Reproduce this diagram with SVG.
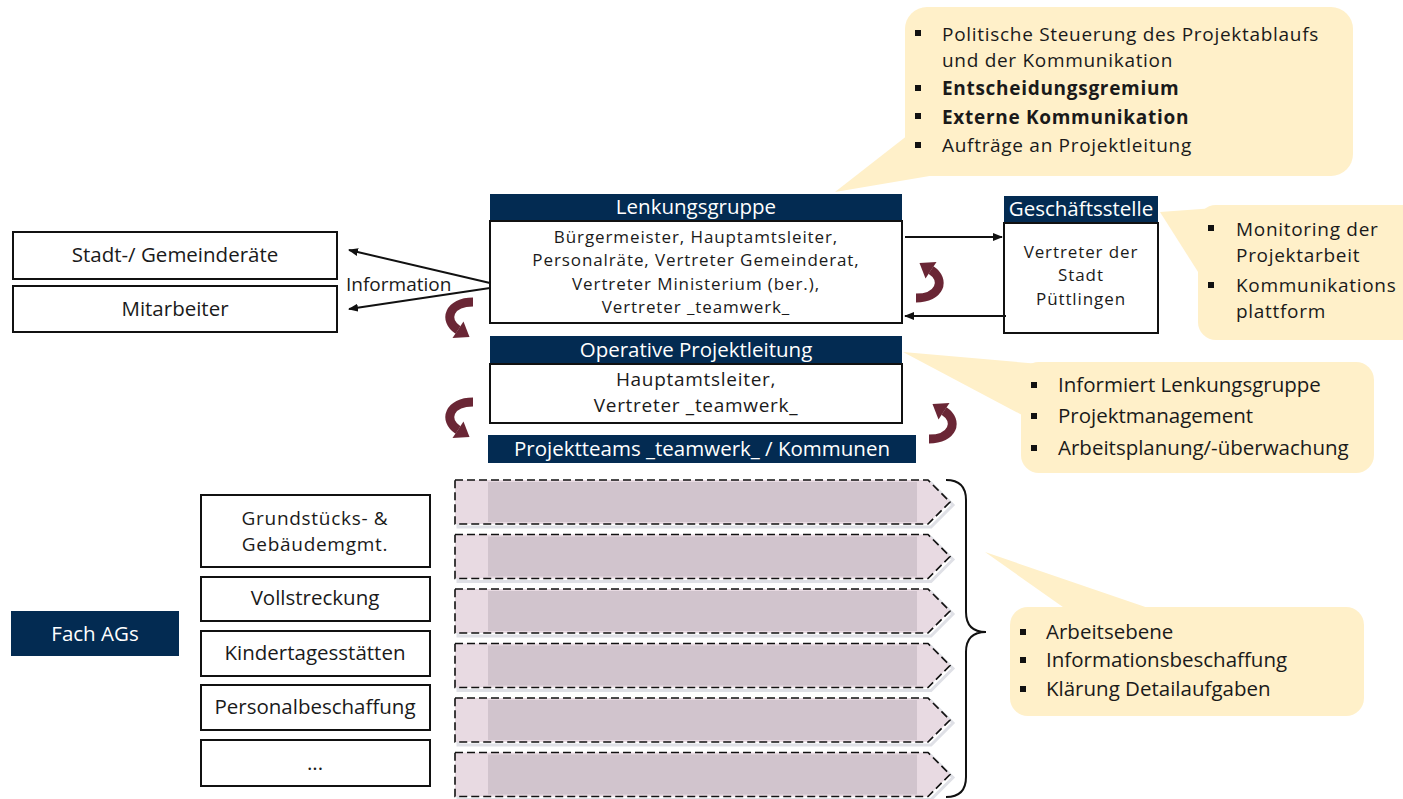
<svg xmlns="http://www.w3.org/2000/svg" xmlns:xlink="http://www.w3.org/1999/xlink" width="1403" height="799" viewBox="0 0 1403 799">
<style>
text{font-family:"Open Sans",Lato,"Liberation Sans",sans-serif;fill:#1a1a1a}
.t{font-size:20.5px}
.tt{font-size:19px;letter-spacing:0.7px}
.s{font-size:17px;letter-spacing:0.9px}
.g{font-size:17px;letter-spacing:0.9px}
.i{font-size:19px}
.c{text-anchor:middle}
.w{fill:#ffffff}
.hdr{fill:#032b52}
.box{fill:#ffffff;stroke:#111;stroke-width:2}
.call{fill:#fff0c9}
.bul{fill:#111}
.b{font-weight:bold}
.conn{stroke:#111;stroke-width:2;fill:none}
.chev{fill:#e8dae2;stroke:#111;stroke-width:1.6;stroke-dasharray:8 4}
.inner{fill:#cdbfc9;opacity:0.85}
.shadow{fill:none;stroke:#dfe0e6;stroke-width:3}
</style>
<defs>
<marker id="ah" markerWidth="10" markerHeight="8" refX="9" refY="4" orient="auto" markerUnits="userSpaceOnUse">
<path d="M0,0 L10,4 L0,8 Z" fill="#111"/>
</marker>
<g id="carrow">
<path d="M28 5 C4 5, -2 23, 13 33" fill="none" stroke="#6a2635" stroke-width="9"/>
<path d="M24.5 40 L7.5 41 L18.5 24.5 Z" fill="#6a2635"/>
</g>
</defs>

<!-- callouts -->
<g id="callout-top">
<path class="call" d="M908 135 L835 192 L965 170 Z"/>
<rect class="call" x="905" y="7" width="448" height="169" rx="22"/>
<rect class="bul" x="915" y="30" width="6" height="6"/>
<text class="tt" x="942" y="41">Politische Steuerung des Projektablaufs</text>
<text class="tt" x="942" y="67">und der Kommunikation</text>
<rect class="bul" x="915" y="85" width="6" height="6"/>
<text class="tt b" x="942" y="95">Entscheidungsgremium</text>
<rect class="bul" x="915" y="113" width="6" height="6"/>
<text class="tt b" x="942" y="124">Externe Kommunikation</text>
<rect class="bul" x="915" y="142" width="6" height="6"/>
<text class="tt" x="942" y="152">Aufträge an Projektleitung</text>
</g>

<g id="callout-gs">
<path class="call" d="M1160 212 L1215 208 L1200 275 Z"/>
<rect class="call" x="1198" y="205" width="230" height="135" rx="18"/>
<rect class="bul" x="1208" y="225" width="6" height="6"/>
<text class="tt" x="1236" y="236">Monitoring der</text>
<text class="tt" x="1236" y="262">Projektarbeit</text>
<rect class="bul" x="1208" y="282" width="6" height="6"/>
<text class="tt" x="1236" y="292">Kommunikations</text>
<text class="tt" x="1236" y="318">plattform</text>
</g>

<g id="callout-op">
<path class="call" d="M903 352 L1040 364 L1022 415 Z"/>
<rect class="call" x="1021" y="362" width="353" height="111" rx="18"/>
<rect class="bul" x="1031" y="382" width="6" height="6"/>
<text class="t" x="1058" y="392">Informiert Lenkungsgruppe</text>
<rect class="bul" x="1031" y="413" width="6" height="6"/>
<text class="t" x="1058" y="423">Projektmanagement</text>
<rect class="bul" x="1031" y="445" width="6" height="6"/>
<text class="t" x="1058" y="455">Arbeitsplanung/-überwachung</text>
</g>

<g id="callout-ag">
<path class="call" d="M985 552 L1070 612 L1160 612 Z"/>
<rect class="call" x="1010" y="607" width="354" height="109" rx="18"/>
<rect class="bul" x="1020" y="629" width="6" height="6"/>
<text class="t" x="1046" y="639">Arbeitsebene</text>
<rect class="bul" x="1020" y="657" width="6" height="6"/>
<text class="t" x="1046" y="667">Informationsbeschaffung</text>
<rect class="bul" x="1020" y="686" width="6" height="6"/>
<text class="t" x="1046" y="696">Klärung Detailaufgaben</text>
</g>

<!-- Lenkungsgruppe -->
<g id="lenkungsgruppe">
<rect class="hdr" x="490" y="194" width="412" height="27"/>
<text class="t c w" x="696" y="214">Lenkungsgruppe</text>
<rect class="box" x="490" y="221" width="412" height="102"/>
<text class="s c" x="696" y="243">Bürgermeister, Hauptamtsleiter,</text>
<text class="s c" x="696" y="266.4">Personalräte, Vertreter Gemeinderat,</text>
<text class="s c" x="696" y="289.8">Vertreter Ministerium (ber.),</text>
<text class="s c" x="696" y="313.2">Vertreter _teamwerk_</text>
</g>

<g id="geschaeftsstelle">
<rect class="hdr" x="1004" y="196" width="154" height="27"/>
<text class="t c w" x="1081" y="216">Geschäftsstelle</text>
<rect class="box" x="1004" y="223" width="154" height="110"/>
<text class="g c" x="1081" y="258">Vertreter der</text>
<text class="g c" x="1081" y="281.4">Stadt</text>
<text class="g c" x="1081" y="304.8">Püttlingen</text>
</g>

<g id="stadtrat">
<rect class="box" x="13" y="232" width="324" height="47"/>
<text class="t c" x="175" y="262">Stadt-/ Gemeinderäte</text>
</g>
<g id="mitarbeiter">
<rect class="box" x="13" y="286" width="324" height="46"/>
<text class="t c" x="175" y="316">Mitarbeiter</text>
</g>

<g id="operative">
<rect class="hdr" x="490" y="336" width="412" height="28"/>
<text class="t c w" x="696" y="357">Operative Projektleitung</text>
<rect class="box" x="490" y="364" width="412" height="59"/>
<text class="tt c" x="696" y="386">Hauptamtsleiter,</text>
<text class="tt c" x="696" y="412">Vertreter _teamwerk_</text>
</g>

<g id="projektteams">
<rect class="hdr" x="488" y="435" width="428" height="28"/>
<text class="t c w" x="702" y="456">Projektteams _teamwerk_ / Kommunen</text>
</g>

<g id="fachags">
<rect class="hdr" x="11" y="611" width="168" height="45"/>
<text class="t c w" x="95" y="641">Fach AGs</text>
</g>

<g id="ag-grund">
<rect class="box" x="201" y="495" width="229" height="72"/>
<text class="tt c" x="315" y="525">Grundstücks- &amp;</text>
<text class="tt c" x="315" y="551">Gebäudemgmt.</text>
</g>
<g id="ag-voll">
<rect class="box" x="201" y="577" width="229" height="44"/>
<text class="t c" x="315" y="605">Vollstreckung</text>
</g>
<g id="ag-kita">
<rect class="box" x="201" y="631" width="229" height="45"/>
<text class="t c" x="315" y="660">Kindertagesstätten</text>
</g>
<g id="ag-personal">
<rect class="box" x="201" y="685" width="229" height="45"/>
<text class="t c" x="315" y="714">Personalbeschaffung</text>
</g>
<g id="ag-more">
<rect class="box" x="201" y="740" width="229" height="46"/>
<text class="t c" x="315" y="770">...</text>
</g>

<!-- chevrons -->
<g id="chevrons">
<g transform="translate(0,480)">
<path class="shadow" d="M458 3 H931 L953 25 L931 47 H458 Z"/>
<path class="chev" d="M455 0 H928 L950 22 L928 44 H455 Z"/>
<rect class="inner" x="488" y="2" width="429" height="40"/>
</g>
<g transform="translate(0,534.5)">
<path class="shadow" d="M458 3 H931 L953 25 L931 47 H458 Z"/>
<path class="chev" d="M455 0 H928 L950 22 L928 44 H455 Z"/>
<rect class="inner" x="488" y="2" width="429" height="40"/>
</g>
<g transform="translate(0,589)">
<path class="shadow" d="M458 3 H931 L953 25 L931 47 H458 Z"/>
<path class="chev" d="M455 0 H928 L950 22 L928 44 H455 Z"/>
<rect class="inner" x="488" y="2" width="429" height="40"/>
</g>
<g transform="translate(0,643.5)">
<path class="shadow" d="M458 3 H931 L953 25 L931 47 H458 Z"/>
<path class="chev" d="M455 0 H928 L950 22 L928 44 H455 Z"/>
<rect class="inner" x="488" y="2" width="429" height="40"/>
</g>
<g transform="translate(0,698)">
<path class="shadow" d="M458 3 H931 L953 25 L931 47 H458 Z"/>
<path class="chev" d="M455 0 H928 L950 22 L928 44 H455 Z"/>
<rect class="inner" x="488" y="2" width="429" height="40"/>
</g>
<g transform="translate(0,752.5)">
<path class="shadow" d="M458 3 H931 L953 25 L931 47 H458 Z"/>
<path class="chev" d="M455 0 H928 L950 22 L928 44 H455 Z"/>
<rect class="inner" x="488" y="2" width="429" height="40"/>
</g>
<path d="M946 480 Q966 480 966 500 V612 Q966 632 986 632 Q966 632 966 652 V777 Q966 797 946 797" fill="none" stroke="#111" stroke-width="2"/>
</g>

<!-- connectors -->
<g id="connectors">
<line class="conn" x1="490" y1="283" x2="349" y2="250" marker-end="url(#ah)"/>
<line class="conn" x1="490" y1="288" x2="349" y2="309" marker-end="url(#ah)"/>
<text class="i" x="346" y="291">Information</text>
<line class="conn" x1="905" y1="237" x2="1002" y2="237" marker-end="url(#ah)"/>
<line class="conn" x1="1006" y1="316" x2="905" y2="316" marker-end="url(#ah)"/>
<use xlink:href="#carrow" transform="translate(445,297)"/>
<use xlink:href="#carrow" transform="translate(445,397)"/>
<use xlink:href="#carrow" transform="translate(944,303) rotate(180)"/>
<use xlink:href="#carrow" transform="translate(957,444) rotate(180)"/>
</g>
</svg>
